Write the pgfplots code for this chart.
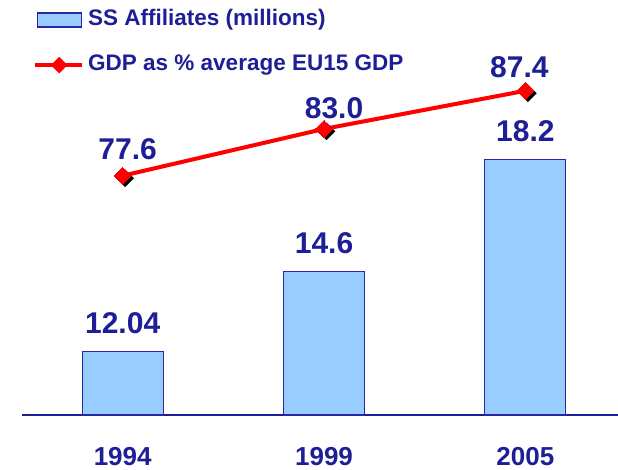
\documentclass[border=0pt]{standalone}
\usepackage{pgfplots}
\usepackage{pgfplotstable}
\pgfplotsset{compat=1.18}
\usepackage{fontspec}
\setmainfont{Liberation Sans}
\definecolor{navy}{RGB}{30,30,150}
\definecolor{barfill}{RGB}{153,204,255}
\definecolor{barline}{RGB}{40,40,165}
\pgfplotstableread{
x y lab
0 12.04 12.04
1 14.6 14.6
2 18.2 18.2
}\ssdata
\pgfplotstableread{
x y dx dy lab
0 77.6 5 16 77.6
1 83.0 10 10 83.0
2 87.4 -6 13 87.4
}\gdpdata
\begin{document}
\begin{tikzpicture}
\useasboundingbox (-22bp,-55bp) rectangle (596bp,415bp);
\begin{axis}[
  scale only axis, width=596bp, height=400bp,
  at={(0,0)}, anchor=south west,
  xmin=-0.5, xmax=2.46, ymin=10, ymax=22.82,
  axis x line=bottom, axis y line=none,
  axis line style={-, draw=navy, line width=1.5bp},
  xtick={0,1,2}, xticklabels={1994,1999,2005},
  major tick length=0pt,
  xticklabel style={anchor=base, yshift=-50bp, font=\fontsize{26bp}{30bp}\selectfont\bfseries, text=navy},
  ytick=\empty,
  legend style={at={(axis description cs:0,1)}, anchor=north west, xshift=11bp, yshift=5.6bp,
    draw=none, fill=none, inner sep=0pt, row sep=24bp, column sep=0pt,
    font=\fontsize{22.5bp}{27bp}\selectfont\bfseries, text=navy,
    nodes={inner sep=0pt, text height=16bp, text depth=5bp}},
  legend cell align=left,
]
\addplot[ybar, bar width=81bp, fill=barfill, draw=barline, line width=1.2bp,
  point meta=explicit symbolic, nodes near coords,
  nodes near coords style={anchor=south, inner sep=0pt, yshift=17bp, text=navy, font=\fontsize{30bp}{36bp}\selectfont\bfseries},
  legend image code/.code={\draw[fill=barfill, draw=barline, line width=1.2bp] (2bp,-7bp) rectangle (46bp,7bp); \path[draw=none, fill=none] (0,-8bp) rectangle (53bp,8bp);}
] table[x=x, y=y, meta=lab] {\ssdata};
\addlegendentry{SS Affiliates (millions)}
\addlegendimage{legend image code/.code={\draw[red, line width=4bp] (0,0)--(47bp,0); \fill[red] (24bp,0) +(-8bp,0) -- +(0,8bp) -- +(8bp,0) -- +(0,-8bp) -- cycle; \path[draw=none, fill=none] (0,-8bp) rectangle (53bp,8bp);}}
\addlegendentry{GDP as \% average EU15 GDP}
\end{axis}
\begin{axis}[
  scale only axis, width=596bp, height=400bp,
  at={(0,0)}, anchor=south west,
  xmin=-0.5, xmax=2.46, ymin=50, ymax=96.14,
  hide axis, clip=false,
]
\addplot[only marks, mark=square*, mark size=6bp,
  mark options={xshift=2.5bp, yshift=-2.5bp, rotate=45, fill=black, draw=black}]
  table[x=x, y=y] {\gdpdata};
\addplot[red, line width=4bp, mark=square*, mark size=6bp,
  mark options={rotate=45, fill=red, draw=red, line width=0pt},
  point meta=explicit symbolic, nodes near coords,
  visualization depends on={\thisrow{dx}\as\dx},
  visualization depends on={\thisrow{dy}\as\dy},
  nodes near coords style={anchor=south, inner sep=0pt, xshift=\dx*1bp, yshift=\dy*1bp, text=navy, font=\fontsize{30bp}{36bp}\selectfont\bfseries}
] table[x=x, y=y, meta=lab] {\gdpdata};
\end{axis}
\end{tikzpicture}
\end{document}
